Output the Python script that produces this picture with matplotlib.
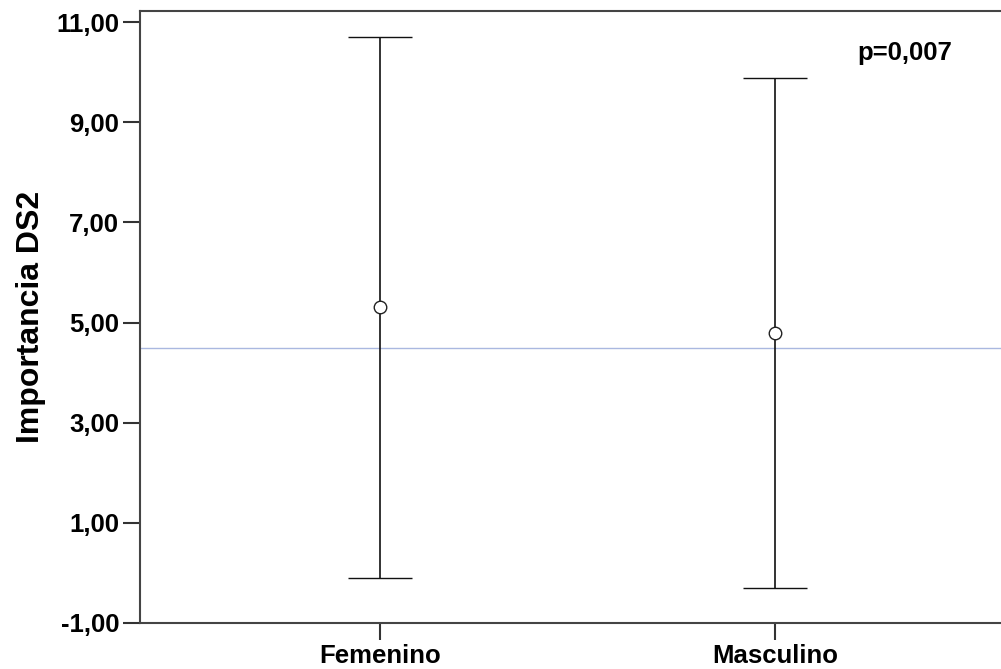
import matplotlib
matplotlib.use("Agg")
import matplotlib.pyplot as plt

categories = ["Femenino", "Masculino"]
means = [5.31, 4.79]
upper = [10.70, 9.88]
lower = [-0.10, -0.30]
ref_value = 4.49
p_text = "p=0,007"
y_ticks = [-1, 1, 3, 5, 7, 9, 11]

plt.rcParams["font.family"] = ["Liberation Sans", "DejaVu Sans"]
plt.rcParams["font.weight"] = "bold"

fig = plt.figure(figsize=(10.01, 6.69), dpi=100)
ax = fig.add_axes([140 / 1001, 46 / 669, 1 - 140 / 1001, 612 / 669])

xs = list(range(len(categories)))
err_lo = [m - l for m, l in zip(means, lower)]
err_hi = [u - m for m, u in zip(means, upper)]

ax.axhline(ref_value, color="#aab8e0", lw=1, zorder=1)
ax.errorbar(xs, means, yerr=[err_lo, err_hi], fmt="o", mfc="white", mec="#222222",
            ms=9, mew=1, ecolor="#111111", elinewidth=1.2, capsize=22.7, capthick=1.6,
            zorder=3)

ax.set_xlim(-0.608, 1.572)
ax.set_ylim(-1, 11.22)
ax.set_yticks(y_ticks)
ax.set_yticklabels([f"{v:.2f}".replace(".", ",") for v in y_ticks])
ax.set_xticks(xs)
ax.set_xticklabels(categories)
ax.tick_params(axis="both", length=12, width=1.5, color="#333333", labelsize=18.5, pad=3)

for side in ["left", "bottom", "top"]:
    ax.spines[side].set_color("#444444")
    ax.spines[side].set_linewidth(1.5)
ax.spines["right"].set_visible(False)

ax.set_ylabel("Importancia DS2", fontsize=23, fontweight="bold")
ax.yaxis.set_label_coords(-0.109, 0.5)
ax.text(1.208, 10.38, p_text, fontsize=18.5, fontweight="bold", ha="left", va="center")

fig.savefig("out.png", dpi=100, facecolor="white")
